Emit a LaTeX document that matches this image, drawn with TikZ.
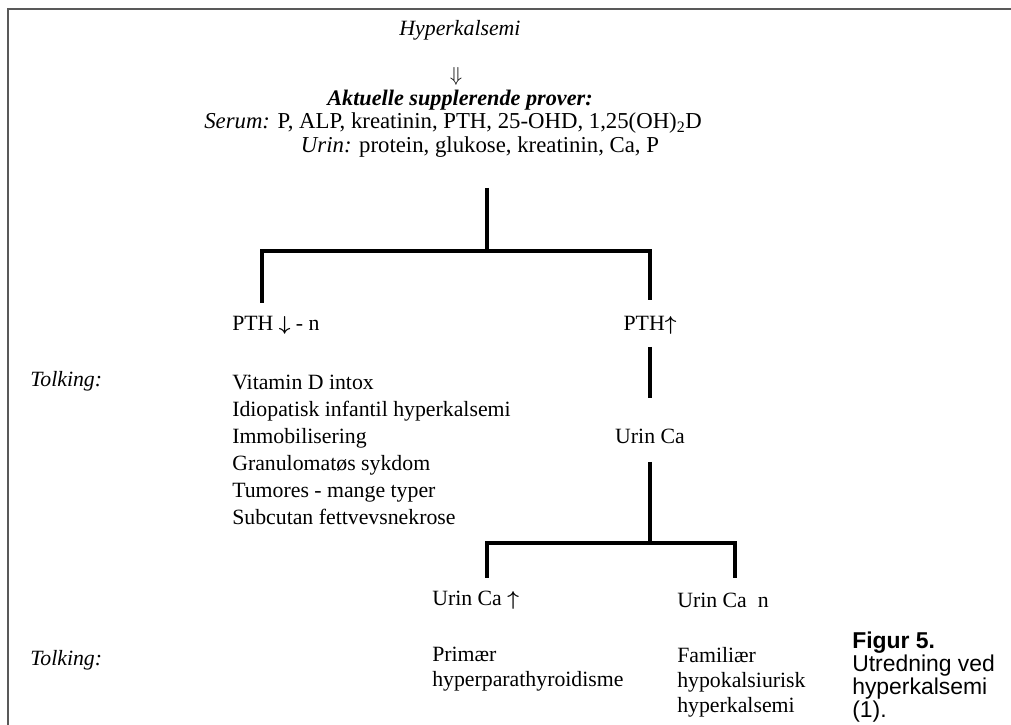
\documentclass[tikz,border=0pt]{standalone}
\usepackage{fontspec}
\setmainfont{Liberation Serif}
\setsansfont{Liberation Sans}
\begin{document}
\begin{tikzpicture}[
  txt/.style={inner sep=0pt, font=\fontsize{15.5}{17.7}\selectfont},
  head/.style={inner sep=0pt, font=\fontsize{16.2}{17.7}\selectfont},
  list/.style={txt, anchor=west, align=left, font=\fontsize{15.5}{19.3}\selectfont},
  tree/.style={line width=2.8pt},
  frame/.style={line width=1.3pt, black!65}]
\useasboundingbox (0,0) rectangle (25.275,18.125);
\draw[frame] (0.2,0) -- (0.2,17.9) -- (25.275,17.9);
% top
\node[txt] (hyper) at (11.5,17.375) {\itshape Hyperkalsemi};
\node[txt] (darrow) at (11.4,16.22) {$\Downarrow$};
\node[txt, font=\fontsize{15.8}{17.7}\selectfont] (aktuelle) at (11.5,15.62) {\bfseries\itshape Aktuelle supplerende prover:};
\node[head, anchor=west] (serum) at (5.1,15.05) {\textit{Serum:} P, ALP, kreatinin, PTH, 25-OHD, 1,25(OH)\textsubscript{2}D};
\node[head] (urin) at (12.0,14.46) {\textit{Urin:} protein, glukose, kreatinin, Ca, P};
% first split
\coordinate (t1) at (12.175,13.425);
\coordinate (j1) at (12.175,11.85);
\coordinate (b1) at (6.55,10.55);
\coordinate (b2) at (16.25,10.625);
\draw[tree] (t1) -- (j1);
\draw[tree] (b1) |- (j1) -| (b2);
\node[txt, anchor=west] (pthlow) at (5.8,10.0) {PTH {\boldmath$\downarrow$} - n};
\node[txt] (pthhigh) at (16.25,10.0) {PTH{\boldmath$\uparrow$}};
\node[txt, anchor=west] (tolk1) at (0.75,8.6) {\itshape Tolking:};
\node[list] (causes) at (5.8,6.875) {Vitamin D intox\\Idiopatisk infantil hyperkalsemi\\Immobilisering\\Granulomatøs sykdom\\Tumores - mange typer\\Subcutan fettvevsnekrose};
% second split
\coordinate (p1) at (16.25,9.45);
\coordinate (p2) at (16.25,8.175);
\draw[tree] (p1) -- (p2);
\node[txt] (urinca) at (16.25,7.225) {Urin Ca};
\coordinate (u1) at (16.25,6.575);
\coordinate (j2) at (16.25,4.55);
\coordinate (b3) at (12.175,3.675);
\coordinate (b4) at (18.375,3.675);
\draw[tree] (u1) -- (j2);
\draw[tree] (b3) |- (j2) -| (b4);
\node[txt, anchor=west] (caup) at (10.8,3.125) {Urin Ca {\boldmath$\uparrow$}};
\node[txt, anchor=west] (can) at (16.925,3.125) {Urin Ca \ n};
\node[txt, anchor=west] (tolk2) at (0.75,1.625) {\itshape Tolking:};
\node[list, font=\fontsize{15.5}{17.7}\selectfont] (primaer) at (10.8,1.3875) {Primær\\hyperparathyroidisme};
\node[list, font=\fontsize{15.5}{17.7}\selectfont] (familiaer) at (16.925,1.075) {Familiær\\hypokalsiurisk\\hyperkalsemi};
% caption
\node[anchor=west, align=left, inner sep=0pt, font=\sffamily\fontsize{16.3}{14.9}\selectfont] (caption) at (21.3,1.2) {\textbf{Figur 5.}\\Utredning ved\\hyperkalsemi\\(1).};
\end{tikzpicture}
\end{document}
